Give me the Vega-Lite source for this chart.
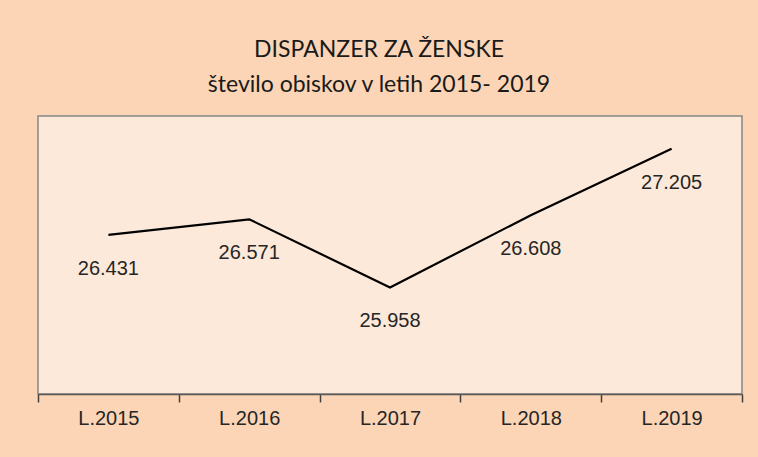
{
  "$schema": "https://vega.github.io/schema/vega-lite/v6.json",
  "autosize": "none",
  "width": 704,
  "height": 278,
  "padding": {"left": 38, "top": 116, "right": 16, "bottom": 63},
  "background": "#FBD5B5",
  "title": {
    "text": ["DISPANZER ZA ŽENSKE", "število obiskov v letih 2015- 2019"],
    "font": "Lato",
    "fontSize": 23,
    "fontWeight": "normal",
    "color": "#1a1a1a",
    "lineHeight": 35,
    "offset": 19,
    "dx": -11,
    "anchor": "middle"
  },
  "data": {
    "values": [
      {"leto": "L.2015", "obiski": 26431},
      {"leto": "L.2016", "obiski": 26571},
      {"leto": "L.2017", "obiski": 25958},
      {"leto": "L.2018", "obiski": 26608},
      {"leto": "L.2019", "obiski": 27205}
    ]
  },
  "encoding": {
    "x": {
      "field": "leto",
      "type": "ordinal",
      "sort": null,
      "scale": {"paddingInner": 0, "paddingOuter": 0},
      "axis": {
        "title": null,
        "labelAngle": 0,
        "labelFont": "Liberation Sans",
        "labelFontSize": 20,
        "labelColor": "#262626",
        "labelPadding": 6,
        "tickBand": "extent",
        "tickSize": 8,
        "tickColor": "#404040",
        "tickWidth": 1.5,
        "domainColor": "#595959",
        "domainWidth": 1.5
      }
    },
    "y": {
      "field": "obiski",
      "type": "quantitative",
      "scale": {"domain": [25000, 27500], "zero": false, "nice": false},
      "axis": null
    }
  },
  "layer": [
    {
      "mark": {"type": "line", "color": "#000000", "strokeWidth": 2.2}
    },
    {
      "mark": {
        "type": "text",
        "dy": 34,
        "font": "Liberation Sans",
        "fontSize": 20,
        "color": "#262626"
      },
      "encoding": {
        "text": {"field": "obiski", "type": "quantitative", "format": ",d"}
      }
    }
  ],
  "config": {
    "locale": {
      "number": {
        "decimal": ",",
        "thousands": ".",
        "grouping": [3],
        "currency": ["", " €"]
      }
    },
    "view": {
      "fill": "#FDE9D9",
      "stroke": "#868686",
      "strokeWidth": 1.5
    }
  }
}
